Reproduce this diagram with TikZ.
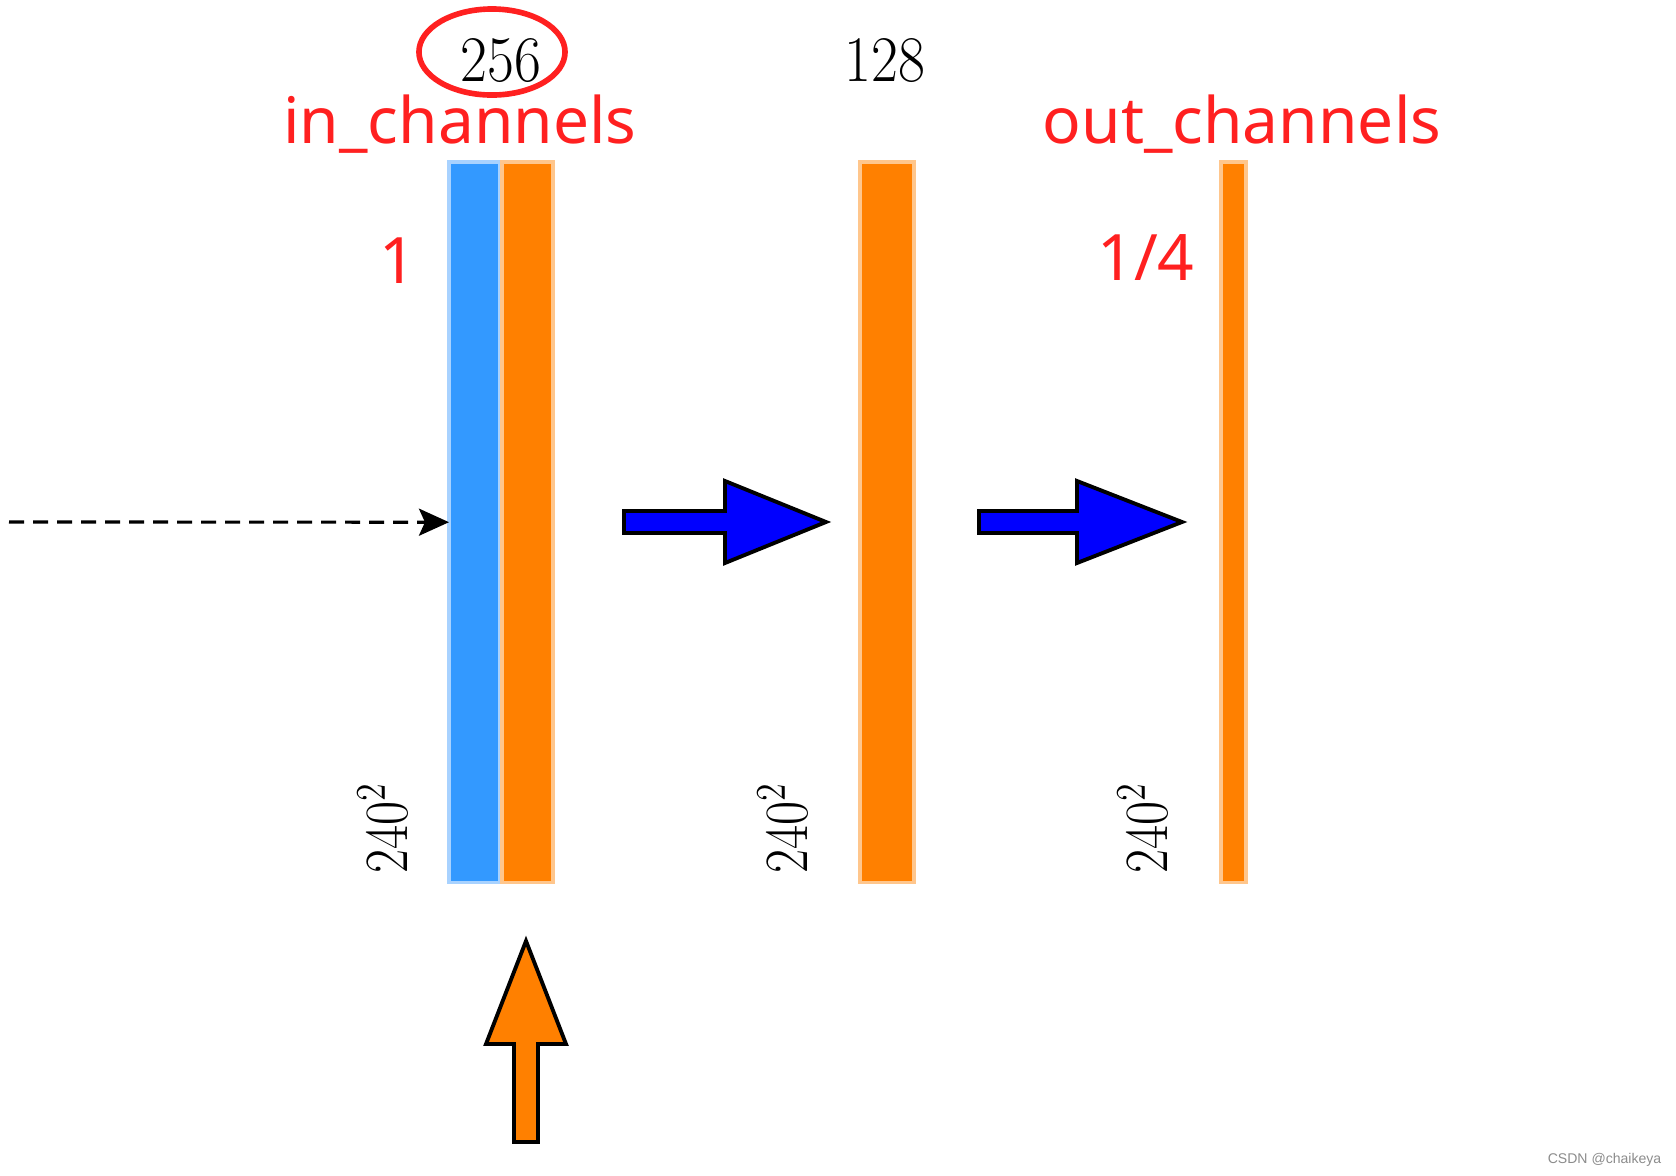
\documentclass[tikz,border=0pt]{standalone}
\usepackage{fontspec}
\newfontfamily\notefont{Noto Sans}
\newfontfamily\markfont{Liberation Sans}
\usetikzlibrary{arrows.meta, positioning}

\definecolor{inblue}{HTML}{3399FF}
\definecolor{inblueedge}{HTML}{A8D2FF}
\definecolor{catorange}{HTML}{FF8000}
\definecolor{catorangeedge}{HTML}{FFC68C}
\definecolor{notered}{HTML}{FF2020}
\definecolor{stepblue}{HTML}{0000FF}

\begin{document}
\begin{tikzpicture}[
		x=0.01cm, y=-0.01cm,
		bar/.style={rectangle, minimum height=7.2cm, line width=1pt, inner sep=0pt, outer sep=0pt},
		num/.style={font=\fontsize{18.5}{20}\selectfont, inner sep=0pt},
		size/.style={font=\fontsize{17.5}{20}\selectfont, inner sep=0pt, rotate=90, anchor=base west},
		note/.style={text=notered, font=\notefont\fontsize{18.2}{22}\selectfont, inner sep=0pt, anchor=base},
		ring/.style={draw=notered, line width=1.6pt},
		feedline/.style={dashed, dash pattern=on 0.15cm off 0.09cm, line width=0.9pt, -{Stealth[length=0.3cm, width=0.27cm, inset=0.06cm]}},
		blockarrow/.style={fill=stepblue, draw=black, line width=1.1pt, line join=miter},
		uparrow/.style={fill=catorange, draw=black, line width=1.1pt, line join=miter}
		]
		\useasboundingbox (0,0) rectangle (1676,1176);
		\fill[white] (0,0) rectangle (1676,1176);
		
		% Feature maps
		\node[bar, fill=inblue, draw=inblueedge, minimum width=0.51cm, anchor=north west] (inbar) at (449,162) {};
		\node[bar, fill=catorange, draw=catorangeedge, minimum width=0.51cm, right=0.02cm of inbar] (catbar) {};
		\node[bar, fill=catorange, draw=catorangeedge, minimum width=0.54cm, anchor=north west] (midbar) at (860,162) {};
		\node[bar, fill=catorange, draw=catorangeedge, minimum width=0.25cm, anchor=north west] (outbar) at (1221,162) {};
		
		% Channel counts
		\node[num, anchor=base] (ch256) at (501,82) {\scalebox{0.9}[1]{256}};
		\node[num, anchor=base] (ch128) at (885,82) {\scalebox{0.9}[1]{128}};
		\draw[ring] ([shift={(-0.09cm,0.09cm)}]ch256.center) ellipse [x radius=0.73cm, y radius=0.43cm];
		
		% Spatial sizes
		\node[size] (size1) at (407,874) {\scalebox{0.85}[1]{240$^2$}};
		\node[size] (size2) at (807,874) {\scalebox{0.85}[1]{240$^2$}};
		\node[size] (size3) at (1167,874) {\scalebox{0.85}[1]{240$^2$}};
		
		% Red notes
		\node[note] (inlabel) at (460,144) {in\_channels};
		\node[note] (outlabel) at (1242,144) {out\_channels};
		\node[note] (inratio) at (398,283) {1};
		\node[note] (outratio) at (1146,281) {1/4};
		
		% Connect them
		\coordinate (feed) at (9,522);
		\draw[feedline] (feed) -- (inbar.west);
		\draw[blockarrow] (624,511) -- (725,511) -- (725,481) -- (826,522) -- (725,563) -- (725,533) -- (624,533) -- cycle;
		\draw[blockarrow] (979,511) -- (1077,511) -- (1077,481) -- (1182,522) -- (1077,563) -- (1077,533) -- (979,533) -- cycle;
		\draw[uparrow] (514,1142) -- (514,1044) -- (486,1044) -- (526,941) -- (566,1044) -- (538,1044) -- (538,1142) -- cycle;
		
		\node[anchor=base east, text=black!45, font=\markfont\fontsize{4}{5}\selectfont, inner sep=0pt] (mark) at (1662,1163) {CSDN @chaikeya};
	\end{tikzpicture}
\end{document}
